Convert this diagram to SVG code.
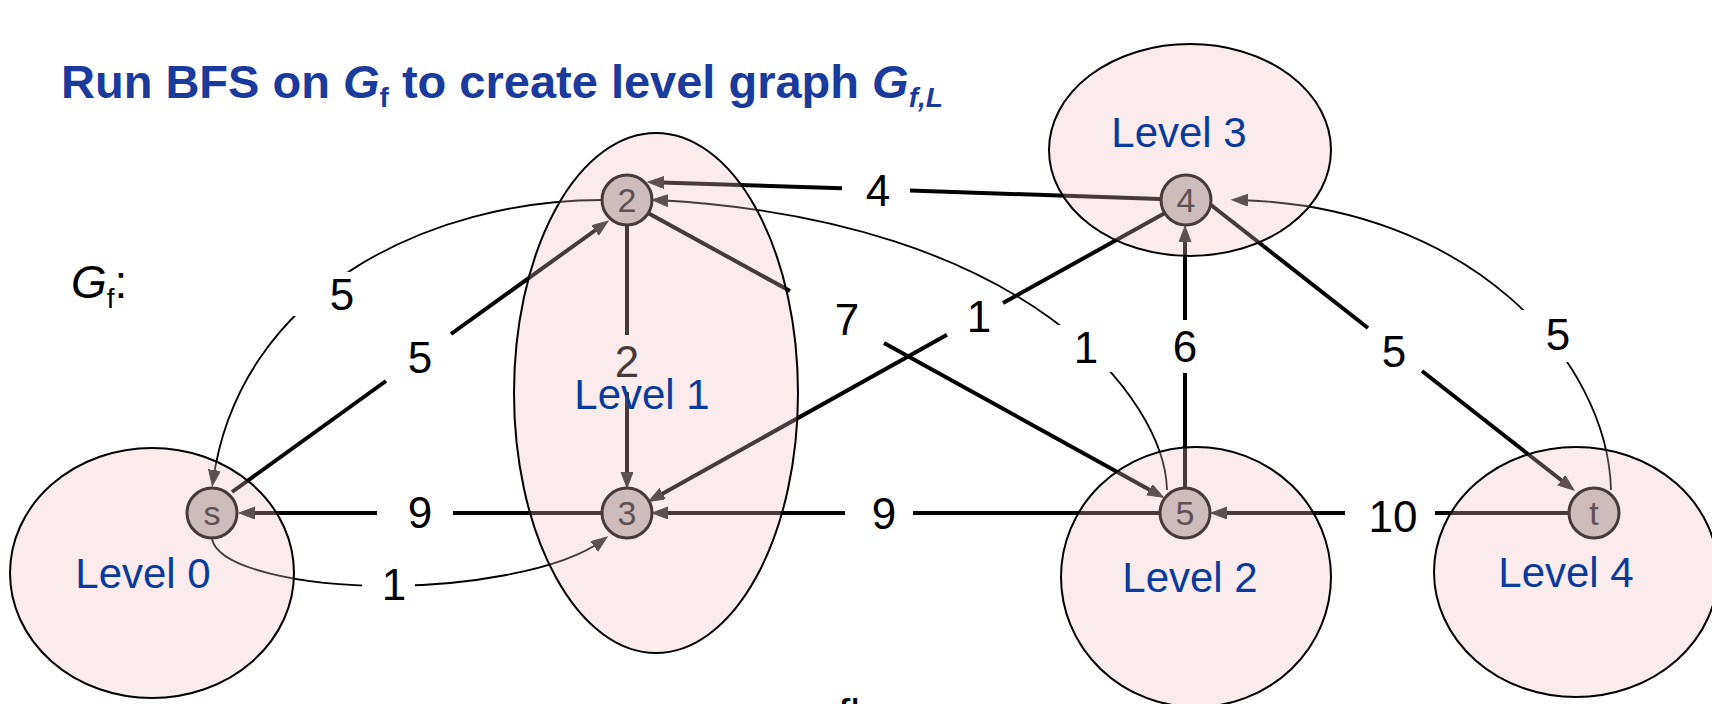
<svg xmlns="http://www.w3.org/2000/svg" width="1712" height="704" viewBox="0 0 1712 704">
<style>
.title{font-family:"Liberation Sans",Arial,sans-serif;font-weight:bold;font-size:47px;fill:#1a3a9c}
.lbl{font-family:"Liberation Sans",Arial,sans-serif;font-size:44px;fill:#000;text-anchor:middle}
.gf{font-family:"Liberation Sans",Arial,sans-serif;font-size:46px;fill:#000}
.lvl{font-family:"Liberation Sans",Arial,sans-serif;font-size:42px;fill:#0a3a9c;text-anchor:middle}
.thick{fill:none;stroke:#000;stroke-width:4;stroke-linecap:butt}
.thin{fill:none;stroke:#000;stroke-width:1.8}
.ko{fill:#fff;stroke:none}
.node circle{fill:#bdbaba;stroke:#000;stroke-width:3}
.node text{font-family:"Liberation Sans",Arial,sans-serif;font-size:34px;fill:#222;text-anchor:middle}
.level ellipse{fill:#f0c0c0;fill-opacity:0.3;stroke:#000;stroke-width:2}
</style>
<defs>
<marker id="arr" markerUnits="userSpaceOnUse" markerWidth="18" markerHeight="14" refX="11" refY="6" orient="auto">
<path d="M0,0 L16,6 L0,12 z" fill="#222" stroke="#222" stroke-width="1"/>
</marker>
</defs>

<text class="title" x="61" y="98">Run BFS on <tspan font-style="italic">G</tspan><tspan font-size="28" dy="9">f</tspan><tspan dy="-9"> to create level graph </tspan><tspan font-style="italic">G</tspan><tspan font-size="28" font-style="italic" dy="9">f,L</tspan></text>

<text class="gf" x="71" y="298"><tspan font-style="italic">G</tspan><tspan font-size="28" dy="10">f</tspan><tspan dy="-10">:</tspan></text>

<g id="connectors">
  <!-- 4 -> 2 (4) -->
  <line class="thick" x1="1160" y1="199" x2="910" y2="190.5"/>
  <line class="thick" x1="842" y1="188.2" x2="653" y2="182.2" marker-end="url(#arr)"/>
  <text class="lbl" x="878" y="206">4</text>
  <!-- 2 -> 3 (2) -->
  <line class="thick" x1="627" y1="225" x2="627" y2="335"/>
  <line class="thick" x1="627" y1="392" x2="627" y2="483" marker-end="url(#arr)"/>
  <text class="lbl" x="627" y="377">2</text>
  <!-- s -> 2 (5) -->
  <line class="thick" x1="232" y1="492" x2="386" y2="381"/>
  <line class="thick" x1="451" y1="334" x2="604" y2="224" marker-end="url(#arr)"/>
  <text class="lbl" x="420" y="373">5</text>
  <!-- 2 -> s (5, curve) -->
  <path class="thin" d="M602,200 C430,200 240,290 213,481" marker-end="url(#arr)"/>
  <rect class="ko" x="290" y="272" width="84" height="44"/>
  <text class="lbl" x="342" y="310">5</text>
  <!-- 3 -> s (9) -->
  <line class="thick" x1="602" y1="513" x2="453" y2="513"/>
  <line class="thick" x1="377" y1="513" x2="244" y2="513" marker-end="url(#arr)"/>
  <text class="lbl" x="420" y="528">9</text>
  <!-- s -> 3 (1, curve) -->
  <path class="thin" d="M212,539 C218,568 300,586 388,586 C460,586 560,572 603,540" marker-end="url(#arr)"/>
  <rect class="ko" x="362" y="566" width="53" height="38"/>
  <text class="lbl" x="394" y="600">1</text>
  <!-- 2 -> 5 (7) -->
  <line class="thick" x1="648" y1="213" x2="790" y2="291"/>
  <line class="thick" x1="884" y1="343" x2="1159" y2="495" marker-end="url(#arr)"/>
  <text class="lbl" x="847" y="335">7</text>
  <!-- 4 -> 3 (1) -->
  <line class="thick" x1="1165" y1="213" x2="1003" y2="303"/>
  <line class="thick" x1="947" y1="334.7" x2="653" y2="499" marker-end="url(#arr)"/>
  <text class="lbl" x="979" y="332">1</text>
  <!-- 5 -> 2 (1, curve) -->
  <path class="thin" d="M1167,490 C1165,400 1030,220 657,200" marker-end="url(#arr)"/>
  <rect class="ko" x="1056" y="325" width="58" height="47"/>
  <text class="lbl" x="1086" y="363">1</text>
  <!-- 5 -> 4 (6) -->
  <line class="thick" x1="1185" y1="488" x2="1185" y2="373"/>
  <line class="thick" x1="1185" y1="320" x2="1185" y2="231" marker-end="url(#arr)"/>
  <text class="lbl" x="1185" y="362">6</text>
  <!-- 4 -> t (5) -->
  <line class="thick" x1="1211" y1="205" x2="1368" y2="328"/>
  <line class="thick" x1="1422" y1="371" x2="1570" y2="487" marker-end="url(#arr)"/>
  <text class="lbl" x="1394" y="367">5</text>
  <!-- t -> 4 (5, curve) -->
  <path class="thin" d="M1611,490 C1608,360 1470,205 1237,200" marker-end="url(#arr)"/>
  <rect class="ko" x="1518" y="310" width="67" height="52"/>
  <text class="lbl" x="1558" y="350">5</text>
  <!-- 5 -> 3 (9) -->
  <line class="thick" x1="1160" y1="513" x2="913" y2="513"/>
  <line class="thick" x1="845" y1="513" x2="657" y2="513" marker-end="url(#arr)"/>
  <text class="lbl" x="884" y="529">9</text>
  <!-- t -> 5 (10) -->
  <line class="thick" x1="1569" y1="513" x2="1435" y2="513"/>
  <line class="thick" x1="1345" y1="513" x2="1216" y2="513" marker-end="url(#arr)"/>
  <text class="lbl" x="1393" y="532">10</text>
</g>

<g id="node-s" class="node"><circle cx="212" cy="513" r="25"/><text x="212" y="525">s</text></g>
<g id="node-2" class="node"><circle cx="627" cy="200" r="25"/><text x="627" y="212">2</text></g>
<g id="node-3" class="node"><circle cx="627" cy="513" r="25"/><text x="627" y="525">3</text></g>
<g id="node-4" class="node"><circle cx="1186" cy="200" r="25"/><text x="1186" y="212">4</text></g>
<g id="node-5" class="node"><circle cx="1185" cy="513" r="25"/><text x="1185" y="525">5</text></g>
<g id="node-t" class="node"><circle cx="1594" cy="513" r="25"/><text x="1594" y="525">t</text></g>

<g id="level-0" class="level"><ellipse cx="152" cy="573" rx="142" ry="125"/><text class="lvl" x="143" y="588">Level 0</text></g>
<g id="level-1" class="level"><ellipse cx="656" cy="393" rx="142" ry="260"/><text class="lvl" x="642" y="409">Level 1</text></g>
<g id="level-2" class="level"><ellipse cx="1196" cy="577" rx="135" ry="130"/><text class="lvl" x="1190" y="592">Level 2</text></g>
<g id="level-3" class="level"><ellipse cx="1190" cy="150" rx="141" ry="106"/><text class="lvl" x="1179" y="147">Level 3</text></g>
<g id="level-4" class="level"><ellipse cx="1576" cy="572" rx="142" ry="125"/><text class="lvl" x="1566" y="587">Level 4</text></g>

<text class="lbl" x="838" y="730" style="text-anchor:start">fl</text>
</svg>
